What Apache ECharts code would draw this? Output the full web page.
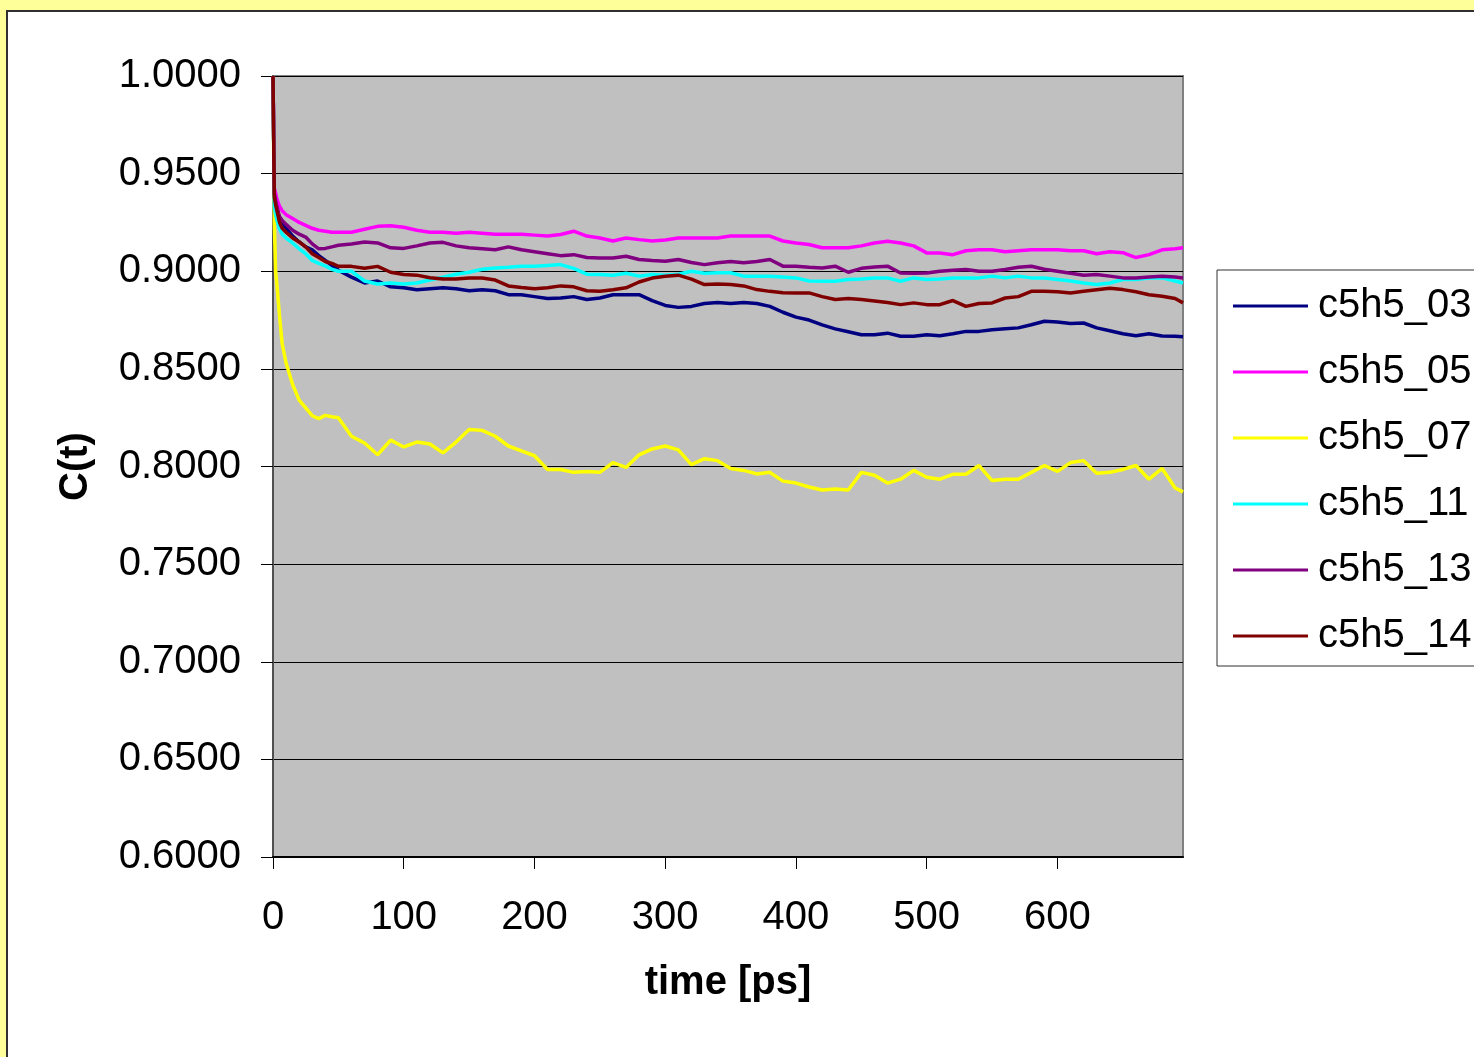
<!DOCTYPE html>
<html>
<head>
<meta charset="utf-8">
<title>C(t) vs time</title>
<script src="https://cdn.jsdelivr.net/npm/echarts@6/dist/echarts.min.js"></script>
<style>
    html, body { margin: 0; padding: 0; background: #ffff99; }
    #chart { width: 1474px; height: 1057px; }
</style>
</head>
<body>
<div id="chart"></div>
<script>
// time points [ps]
var times = [
    0, 1, 2, 3, 5, 7, 10, 15, 20, 25, 30, 35, 40, 45,
    50, 60, 70, 80, 90, 100, 110, 120, 130, 140,
    150, 160, 170, 180, 190, 200, 210, 220, 230, 240,
    250, 260, 270, 280, 290, 300, 310, 320, 330, 340,
    350, 360, 370, 380, 390, 400, 410, 420, 430, 440,
    450, 460, 470, 480, 490, 500, 510, 520, 530, 540,
    550, 560, 570, 580, 590, 600, 610, 620, 630, 640,
    650, 660, 670, 680, 690, 696
];

var c5h5_03 = [
    1.0, 0.940, 0.935, 0.932, 0.9267, 0.924, 0.922, 0.918, 0.915, 0.9125, 0.911, 0.908, 0.9055, 0.903,
    0.9005, 0.897, 0.894, 0.895, 0.892, 0.8915, 0.8905, 0.891, 0.8915, 0.891,
    0.890, 0.8905, 0.890, 0.888, 0.888, 0.887, 0.886, 0.8863, 0.887, 0.8855,
    0.8863, 0.888, 0.888, 0.888, 0.885, 0.8825, 0.8815, 0.882, 0.8835, 0.884,
    0.8835, 0.884, 0.8835, 0.882, 0.879, 0.8765, 0.875, 0.8725, 0.8705, 0.869,
    0.8675, 0.8675, 0.8683, 0.8667, 0.8667, 0.8675, 0.867, 0.868, 0.8692, 0.8692,
    0.870, 0.8705, 0.871, 0.8726, 0.8744, 0.874, 0.8732, 0.8735, 0.871, 0.8695,
    0.868, 0.867, 0.868, 0.8668, 0.8667, 0.8665
];

var c5h5_05 = [
    1.0, 0.9425, 0.940, 0.937, 0.9333, 0.931, 0.929, 0.927, 0.925, 0.9235, 0.922, 0.921, 0.9205, 0.920,
    0.920, 0.920, 0.9215, 0.923, 0.9233, 0.9225, 0.921, 0.920, 0.920, 0.9195,
    0.920, 0.9195, 0.919, 0.919, 0.919, 0.9185, 0.918, 0.9188, 0.9205, 0.918,
    0.917, 0.9155, 0.917, 0.9162, 0.9155, 0.916, 0.917, 0.917, 0.917, 0.917,
    0.918, 0.918, 0.918, 0.918, 0.9155, 0.9145, 0.9137, 0.912, 0.912, 0.912,
    0.913, 0.9145, 0.9154, 0.9145, 0.913, 0.9094, 0.9094, 0.9085, 0.9105, 0.911,
    0.911, 0.910, 0.9105, 0.911, 0.911, 0.911, 0.9105, 0.9105, 0.909, 0.910,
    0.9095, 0.907, 0.9085, 0.911, 0.9115, 0.912
];

var c5h5_07 = [
    1.0, 0.925, 0.900, 0.893, 0.877, 0.863, 0.853, 0.842, 0.834, 0.830, 0.826, 0.8245, 0.8262, 0.8255,
    0.825, 0.8155, 0.812, 0.806, 0.8135, 0.810, 0.8125, 0.8115, 0.807, 0.8125,
    0.819, 0.8185, 0.8155, 0.8105, 0.808, 0.8055, 0.7985, 0.7985, 0.797, 0.7975,
    0.797, 0.802, 0.7995, 0.806, 0.809, 0.8105, 0.8085, 0.801, 0.804, 0.803,
    0.799, 0.798, 0.7962, 0.797, 0.7925, 0.7915, 0.7895, 0.788, 0.7885, 0.788,
    0.797, 0.7955, 0.7915, 0.7935, 0.798, 0.7945, 0.7935, 0.796, 0.796, 0.8005,
    0.7928, 0.7935, 0.7935, 0.797, 0.8005, 0.7975, 0.802, 0.803, 0.7965, 0.797,
    0.7985, 0.8005, 0.7935, 0.799, 0.789, 0.787
];

var c5h5_11 = [
    1.0, 0.933, 0.929, 0.926, 0.9217, 0.919, 0.917, 0.9145, 0.9115, 0.909, 0.9055, 0.904, 0.9027, 0.901,
    0.900, 0.900, 0.895, 0.8935, 0.894, 0.8935, 0.894, 0.8955, 0.897, 0.8985,
    0.8995, 0.901, 0.9017, 0.902, 0.9025, 0.9025, 0.903, 0.9034, 0.9015, 0.8985,
    0.8983, 0.898, 0.899, 0.8975, 0.8983, 0.898, 0.8985, 0.900, 0.899, 0.8992,
    0.8992, 0.8975, 0.8975, 0.8975, 0.897, 0.8966, 0.895, 0.8949, 0.8949, 0.8958,
    0.896, 0.8966, 0.8966, 0.8949, 0.8966, 0.8958, 0.896, 0.8966, 0.8966, 0.8966,
    0.8975, 0.8966, 0.8975, 0.8966, 0.8966, 0.8958, 0.895, 0.894, 0.8932, 0.894,
    0.8958, 0.8958, 0.8966, 0.8966, 0.895, 0.894
];

var c5h5_13 = [
    1.0, 0.940, 0.936, 0.933, 0.928, 0.926, 0.924, 0.921, 0.919, 0.9175, 0.914, 0.9115, 0.9117, 0.9125,
    0.9133, 0.914, 0.915, 0.9145, 0.912, 0.9117, 0.913, 0.9145, 0.9148, 0.913,
    0.912, 0.9115, 0.911, 0.9125, 0.911, 0.910, 0.909, 0.908, 0.9085, 0.907,
    0.9068, 0.9068, 0.9077, 0.906, 0.9055, 0.9051, 0.906, 0.9045, 0.9034, 0.9043,
    0.905, 0.9043, 0.905, 0.906, 0.9026, 0.9026, 0.902, 0.9017, 0.9026, 0.8995,
    0.9015, 0.9022, 0.9026, 0.8991, 0.899, 0.8991, 0.900, 0.9005, 0.9009, 0.900,
    0.900, 0.9009, 0.902, 0.9026, 0.901, 0.900, 0.899, 0.898, 0.8983, 0.8975,
    0.8966, 0.8966, 0.897, 0.8974, 0.897, 0.8966
];

var c5h5_14 = [
    1.0, 0.938, 0.934, 0.931, 0.925, 0.922, 0.920, 0.917, 0.915, 0.9125, 0.909, 0.907, 0.905, 0.904,
    0.9025, 0.9025, 0.9015, 0.9025, 0.8995, 0.8983, 0.898, 0.8967, 0.896, 0.896,
    0.8965, 0.8965, 0.8955, 0.8925, 0.8917, 0.891, 0.8915, 0.8925, 0.892, 0.890,
    0.8897, 0.8905, 0.8915, 0.8945, 0.8965, 0.8974, 0.898, 0.896, 0.8932, 0.8935,
    0.8932, 0.8925, 0.8906, 0.8897, 0.889, 0.8889, 0.8889, 0.887, 0.8855, 0.886,
    0.8855, 0.8848, 0.884, 0.8829, 0.8838, 0.8829, 0.8829, 0.885, 0.882, 0.8835,
    0.8838, 0.8863, 0.887, 0.8897, 0.8897, 0.8895, 0.8889, 0.8897, 0.8905, 0.8913,
    0.8906, 0.8895, 0.888, 0.8872, 0.886, 0.8838
];

var seriesNames = ['c5h5_03', 'c5h5_05', 'c5h5_07', 'c5h5_11', 'c5h5_13', 'c5h5_14'];
var seriesValues = [c5h5_03, c5h5_05, c5h5_07, c5h5_11, c5h5_13, c5h5_14];
var seriesColors = ['#000080', '#ff00ff', '#ffff00', '#00ffff', '#800080', '#800000'];

var yTicks = { min: 0.6, max: 1.0, step: 0.05 };
var xTicks = { min: 0, max: 696, step: 100 };

var FONT = "'Liberation Sans', Arial, sans-serif";

function pairs(vals) {
    var out = [];
    for (var i = 0; i < times.length; i++) {
        out.push([times[i], vals[i]]);
    }
    return out;
}

var chart = echarts.init(document.getElementById('chart'), null, { renderer: 'canvas' });

var option = {
    animation: false,
    backgroundColor: '#ffff99',
    textStyle: { fontFamily: FONT },
    graphic: [{
        type: 'rect',
        z: -10,
        silent: true,
        shape: { x: 7, y: 11, width: 1500, height: 1100 },
        style: { fill: '#ffffff', stroke: '#303030', lineWidth: 2 }
    }],
    grid: {
        left: 273,
        top: 76,
        width: 910,
        height: 781,
        show: true,
        backgroundColor: '#c0c0c0',
        borderColor: '#808080',
        borderWidth: 2
    },
    legend: {
        orient: 'vertical',
        left: 1217,
        top: 270,
        padding: [14, 30, 8, 16],
        icon: 'rect',
        itemWidth: 75,
        itemHeight: 3,
        itemGap: 22,
        backgroundColor: '#ffffff',
        borderColor: '#303030',
        borderWidth: 1,
        borderRadius: 0,
        textStyle: {
            fontFamily: FONT, fontSize: 40, color: '#000', lineHeight: 44,
            padding: [0, 0, 0, 5]
        },
        data: seriesNames
    },
    xAxis: {
        type: 'value',
        min: xTicks.min,
        max: xTicks.max,
        interval: xTicks.step,
        name: 'time [ps]',
        nameLocation: 'middle',
        nameGap: 106,
        nameTextStyle: { fontFamily: FONT, fontSize: 40, fontWeight: 'bold', color: '#000' },
        axisLine: { onZero: false, lineStyle: { color: '#000', width: 2 } },
        axisTick: { inside: false, length: 12, lineStyle: { color: '#000', width: 1 } },
        axisLabel: {
            fontFamily: FONT, fontSize: 40, color: '#000', margin: 41,
            showMaxLabel: false
        },
        splitLine: { show: false }
    },
    yAxis: {
        type: 'value',
        min: yTicks.min,
        max: yTicks.max,
        interval: yTicks.step,
        name: 'C(t)',
        nameLocation: 'middle',
        nameRotate: 90,
        nameGap: 177,
        nameTextStyle: { fontFamily: FONT, fontSize: 40, fontWeight: 'bold', color: '#000' },
        axisLine: { show: true, lineStyle: { color: '#505050', width: 2 } },
        axisTick: { show: true, inside: false, length: 12, lineStyle: { color: '#000', width: 1 } },
        axisLabel: {
            fontFamily: FONT, fontSize: 40, color: '#000', margin: 32,
            formatter: function (v) { return v.toFixed(4); }
        },
        splitLine: { show: true, lineStyle: { color: '#000', width: 1 } }
    },
    series: seriesNames.map(function (name, i) {
        return {
            name: name,
            type: 'line',
            symbol: 'none',
            showSymbol: false,
            color: seriesColors[i],
            lineStyle: { color: seriesColors[i], width: 3.5 },
            data: pairs(seriesValues[i])
        };
    })
};

chart.setOption(option);
</script>
</body>
</html>
